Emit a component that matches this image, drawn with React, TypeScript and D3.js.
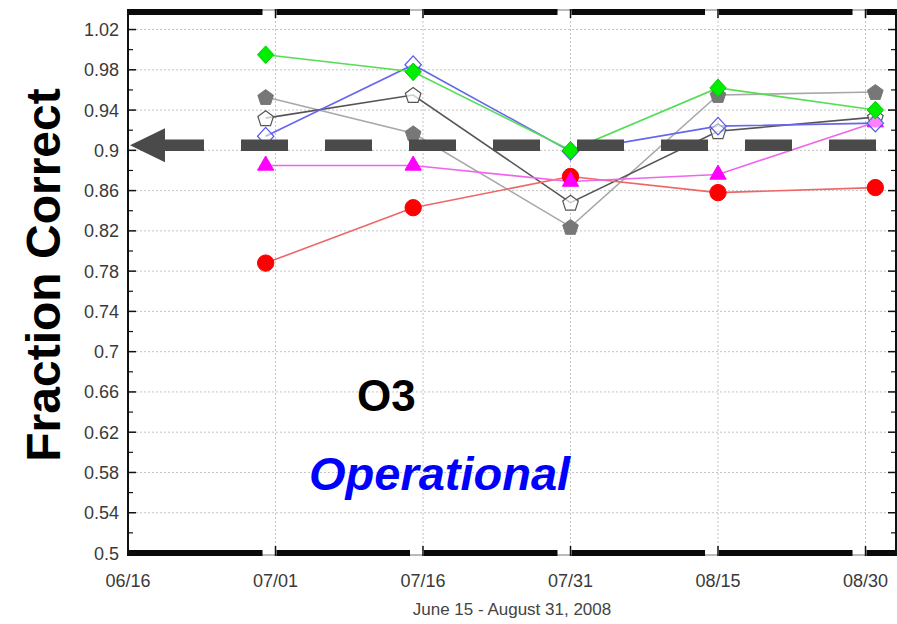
import React from 'react';
import * as d3 from 'd3';

const W = 897;
const H = 624;

const pointDates = ['2008-06-30', '2008-07-15', '2008-07-31', '2008-08-15', '2008-08-31'];
const xTickDates = ['2008-06-16', '2008-07-01', '2008-07-16', '2008-07-31', '2008-08-15', '2008-08-30'];
const xTickLabels = ['06/16', '07/01', '07/16', '07/31', '08/15', '08/30'];
const yTickValues = [0.5, 0.54, 0.58, 0.62, 0.66, 0.7, 0.74, 0.78, 0.82, 0.86, 0.9, 0.94, 0.98, 1.02];
const yTickLabels = ['0.5', '0.54', '0.58', '0.62', '0.66', '0.7', '0.74', '0.78', '0.82', '0.86', '0.9', '0.94', '0.98', '1.02'];

const grayFilledVals = [0.953, 0.917, 0.824, 0.955, 0.958];
const darkHollowVals = [0.932, 0.955, 0.848, 0.919, 0.933];
const redVals = [0.788, 0.843, 0.874, 0.858, 0.863];
const magentaVals = [0.885, 0.885, 0.869, 0.876, 0.928];
const blueVals = [0.914, 0.985, 0.899, 0.924, 0.927];
const greenVals = [0.995, 0.978, 0.900, 0.962, 0.940];

const arrowLevel = 0.905;

const parse = (s: string) => {
  const [y, m, d] = s.split('-').map(Number);
  return new Date(Date.UTC(y, m - 1, d));
};

const t0 = parse('2008-06-16');
const t1 = new Date(t0.getTime() + 78.1 * 864e5);

const left = 128;
const right = 896;
const top = 9;
const bottom = 556;

const x = d3.scaleUtc().domain([t0, t1]).range([left, right]);
const y = d3.scaleLinear().domain([0.5, 1.04]).range([553, 9.4]);

const pentagon = {
  draw(ctx: any, size: number) {
    const r = Math.sqrt(size / 2.378);
    for (let i = 0; i < 5; i++) {
      const a = -Math.PI / 2 + (i * 2 * Math.PI) / 5;
      const px = r * Math.cos(a);
      const py = r * Math.sin(a) + r * 0.1;
      if (i === 0) ctx.moveTo(px, py);
      else ctx.lineTo(px, py);
    }
    ctx.closePath();
  },
};

const diamond = {
  draw(ctx: any, size: number) {
    const w = Math.sqrt(size / 2.1);
    const h = w * 1.08;
    ctx.moveTo(0, -h);
    ctx.lineTo(w, 0);
    ctx.lineTo(0, h);
    ctx.lineTo(-w, 0);
    ctx.closePath();
  },
};

type Series = {
  vals: number[];
  line: string;
  shape: any;
  size: number;
  fill: string;
  stroke: string;
  sw: number;
};

const series: Series[] = [
  { vals: grayFilledVals, line: '#a8a8a8', shape: pentagon, size: 160, fill: '#777777', stroke: '#777777', sw: 1 },
  { vals: darkHollowVals, line: '#555555', shape: pentagon, size: 160, fill: 'rgba(255,255,255,0.7)', stroke: '#555555', sw: 1.2 },
  { vals: redVals, line: '#ee6666', shape: d3.symbolCircle, size: 210, fill: '#ff0000', stroke: '#ff0000', sw: 1 },
  { vals: magentaVals, line: '#ee66ee', shape: d3.symbolTriangle, size: 115, fill: '#ff00ff', stroke: '#ff00ff', sw: 1 },
  { vals: blueVals, line: '#6666ee', shape: diamond, size: 140, fill: 'rgba(255,255,255,0.5)', stroke: '#5555ee', sw: 1.2 },
  { vals: greenVals, line: '#55dd55', shape: diamond, size: 140, fill: '#00ee00', stroke: '#00cc00', sw: 1 },
];

export default function App() {
  const xt = xTickDates.map((d) => x(parse(d)));
  const gapEdges = [...xt.slice(1), right + 13];
  const segs = gapEdges.map((g, i) => [i === 0 ? left : xt[i] + 1, g - 13]);

  const lineGen = d3
    .line<number>()
    .x((_, i) => x(parse(pointDates[i])))
    .y((v) => y(v));

  const minorY: number[] = [];
  for (let i = 0; i < yTickValues.length; i++) {
    minorY.push(yTickValues[i] + 0.02);
  }

  const ay = y(arrowLevel);
  const ax = x(t0) + 2;

  return (
    <svg width={W} height={H} style={{ position: 'absolute', left: 0, top: 0, background: '#fff' }}
      fontFamily="'Liberation Sans', Arial, sans-serif">
      <rect x={0} y={0} width={W} height={H} fill="#fff" />
      {/* grid */}
      {yTickValues.slice(1).map((v) => (
        <line key={'gy' + v} x1={left} x2={right} y1={y(v)} y2={y(v)} stroke="#c4c4c4" strokeWidth={1} strokeDasharray="2,2" />
      ))}
      {xt.slice(1).map((px, i) => (
        <line key={'gx' + i} x1={px} x2={px} y1={top} y2={bottom} stroke="#c4c4c4" strokeWidth={1} strokeDasharray="2,2" />
      ))}
      {/* frame */}
      <line x1={left} x2={right} y1={top + 1} y2={top + 1} stroke="#777" strokeWidth={1} />
      <line x1={left} x2={right} y1={bottom - 1} y2={bottom - 1} stroke="#777" strokeWidth={1} />
      <line x1={left} x2={left} y1={top} y2={bottom} stroke="#111" strokeWidth={2} />
      <line x1={right} x2={right} y1={top} y2={bottom} stroke="#111" strokeWidth={2} />
      {segs.map(([a, b], i) => (
        <g key={'seg' + i}>
          <rect x={a} y={top} width={b - a} height={6} fill="#0a0a0a" />
          <rect x={a} y={bottom - 6} width={b - a} height={6} fill="#0a0a0a" />
        </g>
      ))}
      {xt.map((px, i) => (
        <g key={'xt' + i}>
          <line x1={px} x2={px} y1={top} y2={top + 9} stroke="#111" strokeWidth={1.5} />
          <line x1={px} x2={px} y1={bottom} y2={bottom - 10} stroke="#111" strokeWidth={1.5} />
        </g>
      ))}
      {yTickValues.map((v) => (
        <g key={'yt' + v}>
          <line x1={left} x2={left + 8} y1={y(v)} y2={y(v)} stroke="#111" strokeWidth={1.5} />
          <line x1={right - 8} x2={right} y1={y(v)} y2={y(v)} stroke="#111" strokeWidth={1.5} />
        </g>
      ))}
      {minorY.filter((v) => v < 1.04).map((v) => (
        <g key={'ym' + v}>
          <line x1={left} x2={left + 5} y1={y(v)} y2={y(v)} stroke="#111" strokeWidth={1.2} />
          <line x1={right - 5} x2={right} y1={y(v)} y2={y(v)} stroke="#111" strokeWidth={1.2} />
        </g>
      ))}
      {/* tick labels */}
      {yTickValues.map((v, i) => (
        <text key={'yl' + v} x={119} y={y(v) + 6.5} textAnchor="end" fontSize={18} fill="#3a3a3a">
          {yTickLabels[i]}
        </text>
      ))}
      {xTickDates.map((d, i) => (
        <text key={'xl' + i} x={xt[i]} y={587} textAnchor="middle" fontSize={18} fill="#3a3a3a">
          {xTickLabels[i]}
        </text>
      ))}
      <text x={512} y={615} textAnchor="middle" fontSize={17} fill="#444">
        June 15 - August 31, 2008
      </text>
      <text transform="translate(60,275) rotate(-90)" textAnchor="middle" fontSize={48} fontWeight="bold" fill="#000">
        Fraction Correct
      </text>
      {/* series */}
      {series.map((s, si) => (
        <g key={'s' + si}>
          <path d={lineGen(s.vals) || ''} fill="none" stroke={s.line} strokeWidth={1.6} />
        </g>
      ))}
      {series.map((s, si) => (
        <g key={'m' + si}>
          {s.vals.map((v, i) => (
            <path
              key={i}
              transform={`translate(${x(parse(pointDates[i]))},${y(v)})`}
              d={d3.symbol().type(s.shape).size(s.size)() || ''}
              fill={s.fill}
              stroke={s.stroke}
              strokeWidth={s.sw}
            />
          ))}
        </g>
      ))}
      {/* annotations */}
      <text x={357} y={411} fontSize={44} fontWeight="bold" fill="#000">
        O3
      </text>
      <text x={309} y={490} fontSize={47} fontWeight="bold" fontStyle="italic" fill="#0000ff">
        Operational
      </text>
      {/* dashed arrow */}
      <line x1={ax + 27} x2={877} y1={ay} y2={ay} stroke="#4a4a4a" strokeWidth={11.5} strokeDasharray="47 37" />
      <path d={`M${ax},${ay} L${ax + 35},${ay - 17} L${ax + 35},${ay + 17} Z`} fill="#4a4a4a" />
    </svg>
  );
}
